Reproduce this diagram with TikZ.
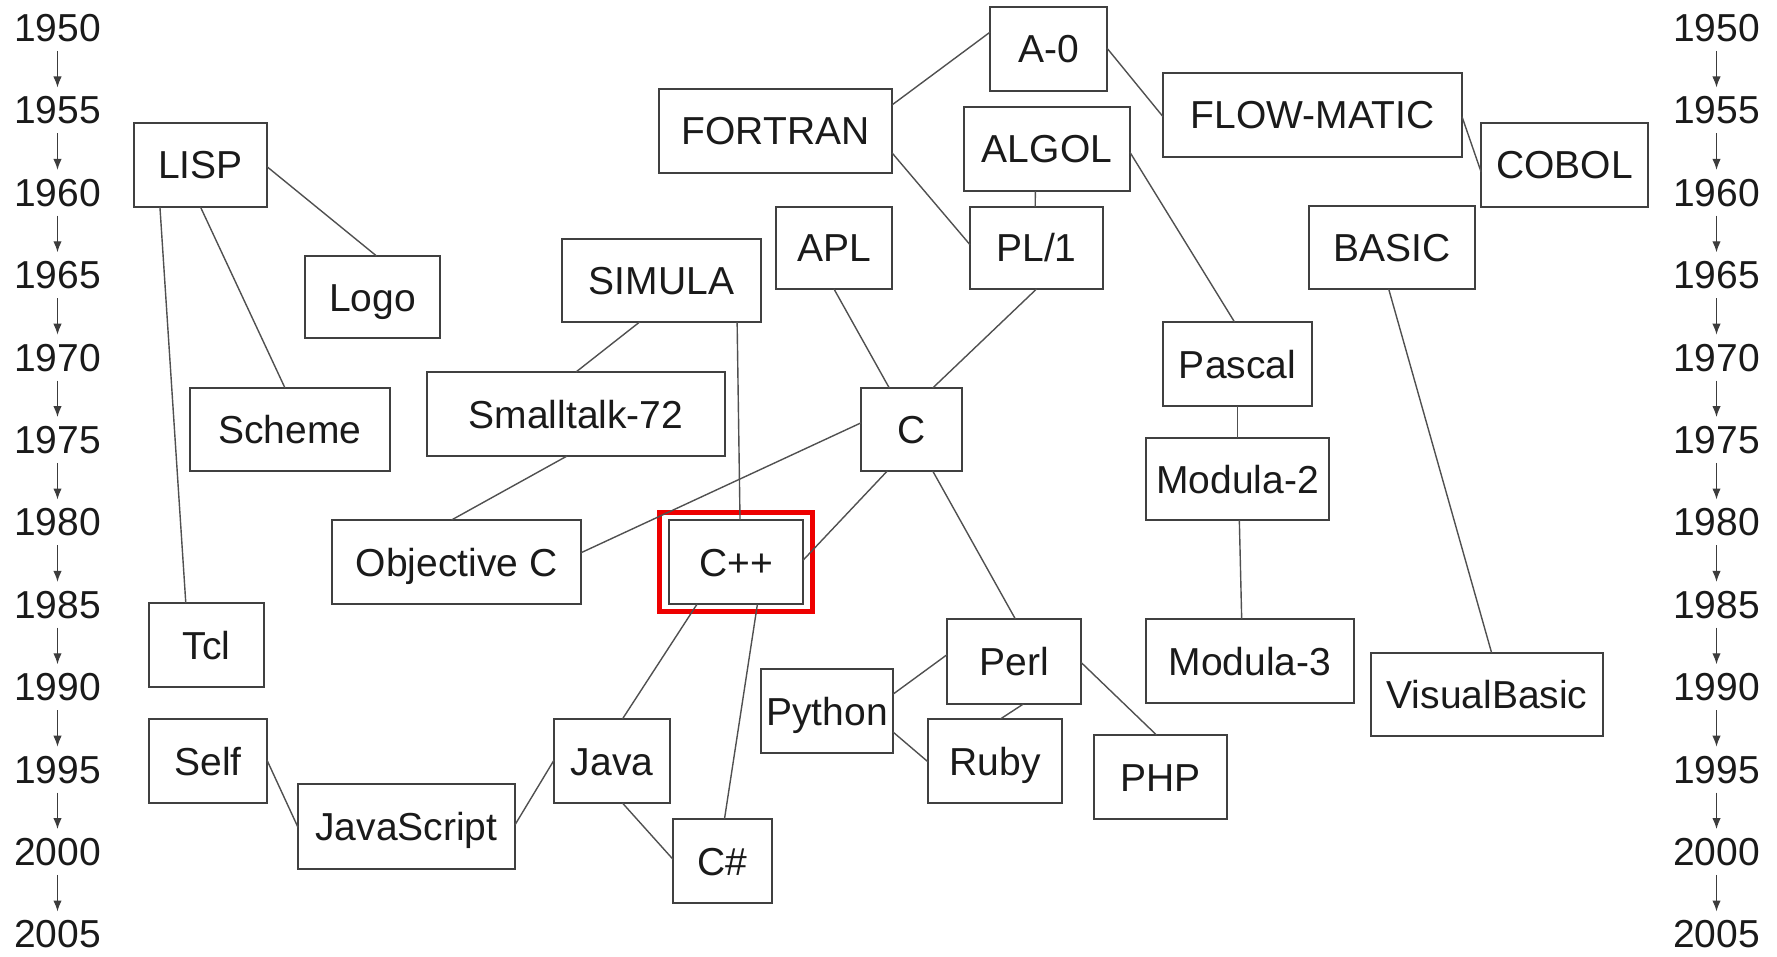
\documentclass[tikz,border=0pt]{standalone}
\usepackage{fontspec}
\setmainfont{Liberation Sans}
\usetikzlibrary{calc,fit,arrows.meta}
\definecolor{boxline}{HTML}{404040}
\definecolor{linkline}{HTML}{505050}
\definecolor{txt}{HTML}{1A1A1A}
\definecolor{hl}{HTML}{EE0000}
\newcommand\bx[6]{\node[box, minimum width={(#4-#2)*0.5pt}, minimum height={(#5-#3)*0.5pt}] (#1) at ({(#2+#4)/2},{(#3+#5)/2}) {#6};}
\begin{document}
\begin{tikzpicture}[x=0.5pt,y=-0.5pt,
  box/.style={draw=boxline, line width=1.2pt, fill=white, rectangle, inner sep=0pt, outer sep=0pt,
    text=txt, font=\fontsize{19.5pt}{23pt}\selectfont, text height=14pt, text depth=0pt},
  link/.style={draw=linkline, line width=0.7pt},
  year/.style={text=txt, font=\fontsize{19.5pt}{23pt}\selectfont, inner xsep=0pt, inner ysep=0pt,
    text height=13.5pt, text depth=0pt},
  yarrow/.style={draw=txt!85, line width=0.65pt, shorten <=4.5pt, shorten >=4.5pt,
    -{Latex[length=5.5pt,width=4.2pt]}}]
\useasboundingbox (0,0) rectangle (1777,957);
% year axes
\foreach \i [evaluate=\i as \yy using 28+82.4*\i, evaluate=\i as \yr using int(1950+5*\i)] in {0,...,11} {
  \node[year] (L\i) at (57.5,\yy) {\yr};
  \node[year] (R\i) at (1716.5,\yy) {\yr};
}
\foreach \i [evaluate=\i as \j using int(\i+1)] in {0,...,10} {
  \draw[yarrow] (L\i) -- (L\j);
  \draw[yarrow] (R\i) -- (R\j);
}
% boxes
\bx{lisp}{134}{123}{267}{207}{LISP}
\bx{logo}{305}{256}{440}{338}{Logo}
\bx{scheme}{190}{388}{390}{471}{Scheme}
\bx{tcl}{149}{603}{264}{687}{Tcl}
\bx{self}{149}{719}{267}{803}{Self}
\bx{js}{298}{784}{515}{869}{JavaScript}
\bx{java}{554}{719}{670}{803}{Java}
\bx{cs}{673}{819}{772}{903}{C\#}
\bx{cpp}{669}{520}{803}{604}{C++}
\bx{objc}{332}{520}{581}{604}{Objective C}
\bx{st}{427}{372}{725}{456}{Smalltalk-72}
\bx{simula}{562}{239}{761}{322}{SIMULA}
\bx{fortran}{659}{89}{892}{173}{FORTRAN}
\bx{a0}{990}{7}{1107}{91}{A-0}
\bx{apl}{776}{207}{892}{289}{APL}
\bx{algol}{964}{107}{1130}{191}{ALGOL}
\bx{pl1}{970}{207}{1103}{289}{PL/1}
\bx{c}{861}{388}{962}{471}{C}
\bx{python}{761}{669}{893}{753}{Python}
\bx{perl}{947}{619}{1081}{704}{Perl}
\bx{ruby}{928}{719}{1062}{803}{Ruby}
\bx{php}{1094}{735}{1227}{819}{PHP}
\bx{flow}{1163}{73}{1462}{157}{FLOW-MATIC}
\bx{cobol}{1481}{123}{1648}{207}{COBOL}
\bx{basic}{1309}{206}{1475}{289}{BASIC}
\bx{pascal}{1163}{322}{1312}{406}{Pascal}
\bx{mod2}{1146}{438}{1329}{520}{Modula-2}
\bx{mod3}{1146}{619}{1354}{703}{Modula-3}
\bx{vb}{1371}{653}{1603}{736}{VisualBasic}
% highlight
\node[draw=hl, line width=2.5pt, fit=(cpp), inner xsep=4.75pt, inner ysep=3.75pt] (hlbox) {};
% connectors
\draw[link] ($(lisp.north east)!0.52!(lisp.south east)$) -- ($(logo.north west)!0.53!(logo.north east)$);
\draw[link] ($(lisp.south west)!0.50!(lisp.south east)$) -- ($(scheme.north west)!0.475!(scheme.north east)$);
\draw[link] ($(lisp.south west)!0.195!(lisp.south east)$) -- ($(tcl.north west)!0.32!(tcl.north east)$);
\draw[link] ($(self.north east)!0.49!(self.south east)$) -- ($(js.north west)!0.51!(js.south west)$);
\draw[link] ($(js.north east)!0.48!(js.south east)$) -- ($(java.north west)!0.49!(java.south west)$);
\draw[link] ($(cpp.south west)!0.21!(cpp.south east)$) -- ($(java.north west)!0.59!(java.north east)$);
\draw[link] ($(cpp.south west)!0.66!(cpp.south east)$) -- ($(cs.north west)!0.52!(cs.north east)$);
\draw[link] ($(java.south west)!0.59!(java.south east)$) -- ($(cs.north west)!0.48!(cs.south west)$);
\draw[link] ($(simula.south west)!0.39!(simula.south east)$) -- ($(st.north west)!0.50!(st.north east)$);
\draw[link] ($(simula.south west)!0.88!(simula.south east)$) -- ($(cpp.north west)!0.53!(cpp.north east)$);
\draw[link] ($(st.south west)!0.47!(st.south east)$) -- ($(objc.north west)!0.48!(objc.north east)$);
\draw[link] ($(objc.north east)!0.39!(objc.south east)$) -- ($(c.north west)!0.42!(c.south west)$);
\draw[link] ($(c.south west)!0.26!(c.south east)$) -- ($(cpp.north east)!0.48!(cpp.south east)$);
\draw[link] ($(apl.south west)!0.50!(apl.south east)$) -- ($(c.north west)!0.28!(c.north east)$);
\draw[link] ($(pl1.south west)!0.50!(pl1.south east)$) -- ($(c.north west)!0.71!(c.north east)$);
\draw[link] ($(c.south west)!0.71!(c.south east)$) -- ($(perl.north west)!0.51!(perl.north east)$);
\draw[link] ($(fortran.north east)!0.19!(fortran.south east)$) -- ($(a0.north west)!0.30!(a0.south west)$);
\draw[link] ($(fortran.north east)!0.76!(fortran.south east)$) -- ($(pl1.north west)!0.46!(pl1.south west)$);
\draw[link] ($(a0.north east)!0.49!(a0.south east)$) -- ($(flow.north west)!0.52!(flow.south west)$);
\draw[link] ($(flow.north east)!0.52!(flow.south east)$) -- ($(cobol.north west)!0.58!(cobol.south west)$);
\draw[link] ($(algol.south west)!0.43!(algol.south east)$) -- ($(pl1.north west)!0.49!(pl1.north east)$);
\draw[link] ($(algol.north east)!0.54!(algol.south east)$) -- ($(pascal.north west)!0.48!(pascal.north east)$);
\draw[link] ($(pascal.south west)!0.50!(pascal.south east)$) -- ($(mod2.north west)!0.50!(mod2.north east)$);
\draw[link] ($(mod2.south west)!0.51!(mod2.south east)$) -- ($(mod3.north west)!0.46!(mod3.north east)$);
\draw[link] ($(basic.south west)!0.48!(basic.south east)$) -- ($(vb.north west)!0.52!(vb.north east)$);
\draw[link] ($(python.north east)!0.30!(python.south east)$) -- ($(perl.north west)!0.42!(perl.south west)$);
\draw[link] ($(python.north east)!0.75!(python.south east)$) -- ($(ruby.north west)!0.51!(ruby.south west)$);
\draw[link] ($(perl.south west)!0.57!(perl.south east)$) -- ($(ruby.north west)!0.54!(ruby.north east)$);
\draw[link] ($(perl.north east)!0.51!(perl.south east)$) -- ($(php.north west)!0.47!(php.north east)$);
\end{tikzpicture}
\end{document}
